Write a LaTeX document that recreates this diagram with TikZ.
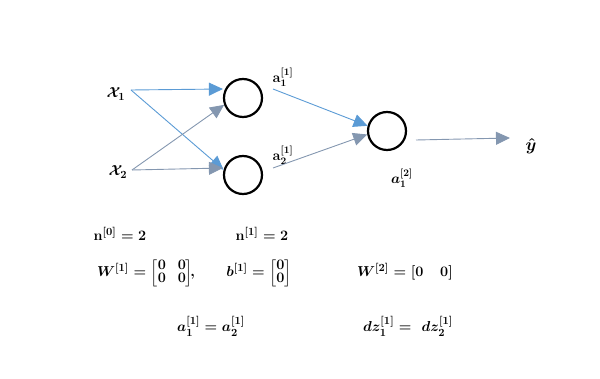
\documentclass[tikz,border=0pt]{standalone}
\usepackage{amsmath,amssymb,bm}
\usetikzlibrary{arrows.meta}
\definecolor{blueA}{HTML}{5B9BD5}
\definecolor{greyB}{HTML}{8497B0}
\newcommand{\tightmat}[1]{{\renewcommand{\arraystretch}{0.7}\setlength{\arraycolsep}{6pt}\begin{bmatrix}#1\end{bmatrix}}}
\begin{document}
\begin{tikzpicture}[x=1pt,y=-1pt,
  neuron/.style={circle,draw=black,line width=2.2pt,minimum size=38pt,inner sep=0pt},
  lbl/.style={font=\bfseries\boldmath\fontsize{15}{17}\selectfont,inner sep=1pt},
  slbl/.style={font=\bfseries\boldmath\fontsize{14}{16}\selectfont,inner sep=1pt},
  conA/.style={draw=blueA,line width=0.9pt,-{Triangle[length=14pt,width=13pt]}},
  conB/.style={draw=greyB,line width=0.9pt,-{Triangle[length=14pt,width=13pt]}}]
\useasboundingbox (0,0) rectangle (600,379);
\node[neuron] (h1) at (243,98) {};
\node[neuron] (h2) at (243,175) {};
\node[neuron] (o) at (387,131) {};
\node[lbl] (x1) at (116,94) {$\mathcal{X}_{1}$};
\node[lbl] (x2) at (118,172) {$\mathcal{X}_{2}$};
\coordinate (x1e) at (131,90);
\coordinate (x2e) at (132,170);
\draw[conA] (x1e) -- (h1.west |- 0,89);
\draw[conA] (x1e) -- (h2.165);
\draw[conB] (x2e) -- (h1.200);
\draw[conB] (x2e) -- (h2.west |- 0,168);
\node[slbl] (a11) at (283,77) {$\mathbf{a}^{[1]}_{1}$};
\node[slbl] (a21) at (283,155) {$\mathbf{a}^{[1]}_{2}$};
\coordinate (a11e) at (273,89);
\coordinate (a21e) at (273,168);
\draw[conA] (a11e) -- (o.165);
\draw[conB] (a21e) -- (o.190);
\coordinate (oe) at (416,140);
\coordinate (ye) at (510,138);
\draw[conB] (oe) -- (ye);
\node[lbl,font=\bfseries\boldmath\fontsize{17}{19}\selectfont] (yhat) at (531,146) {$\hat{y}$};
\node[slbl] (a12) at (402,178) {$a^{[2]}_{1}$};
\node[lbl] (n0) at (120,234) {$\mathbf{n}^{[0]} = 2$};
\node[lbl] (n1) at (262,234) {$\mathbf{n}^{[1]} = 2$};
\node[lbl] (W1) at (146,273) {$W^{[1]} = \tightmat{0 & 0\\ 0 & 0}\!,$};
\node[lbl] (b1) at (259,273) {$b^{[1]} = \tightmat{0\\ 0}$};
\node[lbl] (W2) at (405,272) {$W^{[2]} = [0\ \ \ 0]$};
\node[lbl] (eq1) at (211,326) {$a^{[1]}_{1} = a^{[1]}_{2}$};
\node[lbl] (eq2) at (408,326) {$dz^{[1]}_{1} = \ dz^{[1]}_{2}$};
\end{tikzpicture}
\end{document}
